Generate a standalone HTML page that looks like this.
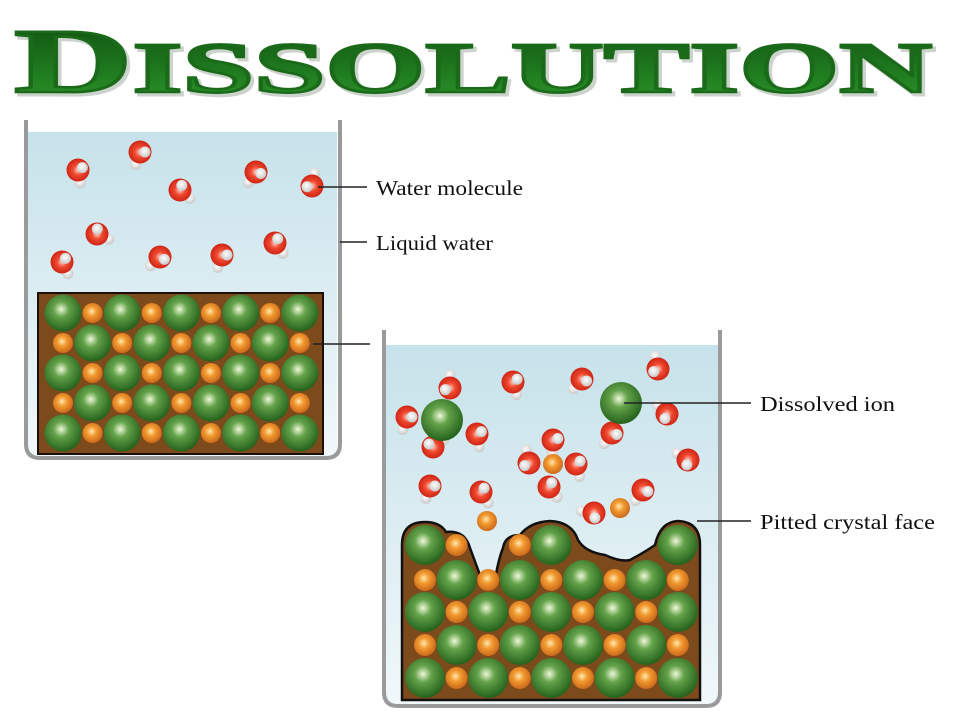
<!DOCTYPE html>
<html><head><meta charset="utf-8"><style>
html,body{margin:0;padding:0;background:#fff;width:960px;height:720px;overflow:hidden}
</style></head><body>
<svg id="s" width="960" height="720" viewBox="0 0 960 720" xmlns="http://www.w3.org/2000/svg">
<defs>
<linearGradient id="tg" x1="0" y1="0" x2="0" y2="1"><stop offset="0" stop-color="#0d4a0d"/><stop offset="0.6" stop-color="#1f7a1f"/><stop offset="1" stop-color="#2f9a2a"/></linearGradient>
<linearGradient id="wg" x1="0" y1="0" x2="0" y2="1"><stop offset="0" stop-color="#c6e2ea"/><stop offset="1" stop-color="#f1f8fa"/></linearGradient>
<radialGradient id="gg" cx="0.45" cy="0.4" r="0.6"><stop offset="0" stop-color="#eef8d8"/><stop offset="0.35" stop-color="#64a24a"/><stop offset="1" stop-color="#24621c"/></radialGradient>
<radialGradient id="og" cx="0.45" cy="0.42" r="0.6"><stop offset="0" stop-color="#ffe8b0"/><stop offset="0.4" stop-color="#f29a30"/><stop offset="1" stop-color="#c9661a"/></radialGradient>
<radialGradient id="rg" cx="0.5" cy="0.5" r="0.55"><stop offset="0" stop-color="#ffd0c8"/><stop offset="0.4" stop-color="#f04a30"/><stop offset="1" stop-color="#c81e10"/></radialGradient>
<radialGradient id="hg" cx="0.45" cy="0.4" r="0.6"><stop offset="0" stop-color="#ffffff"/><stop offset="1" stop-color="#c8c8c8"/></radialGradient>
</defs>
<text x="14" y="92" font-family="Liberation Serif, serif" font-weight="bold" fill="#9aa89a" opacity="0.5" font-size="92" textLength="918" lengthAdjust="spacingAndGlyphs" transform="translate(3,3)" stroke="#9aa89a" stroke-width="3">D<tspan font-size="72">ISSOLUTION</tspan></text>
<text x="14" y="92" font-family="Liberation Serif, serif" font-weight="bold" fill="url(#tg)" font-size="92" textLength="918" lengthAdjust="spacingAndGlyphs" stroke="#1a6a1a" stroke-width="2.5">D<tspan font-size="72">ISSOLUTION</tspan></text>

<rect x="28" y="132" width="309" height="324" fill="url(#wg)"/>
<path d="M26 120 V444 Q26 458 40 458 H326 Q340 458 340 444 V120" fill="none" stroke="#9a9a9a" stroke-width="4"/>
<rect x="38" y="293" width="285" height="161" fill="#7d4a1c" stroke="#1a0e05" stroke-width="2"/>
<g id="L"></g>
<rect x="386" y="345" width="332" height="360" fill="url(#wg)"/>
<path d="M384 330 V692 Q384 706 398 706 H706 Q720 706 720 692 V330" fill="none" stroke="#9a9a9a" stroke-width="4"/>
<path d="M402 700 V545 Q402 522 425 522 Q440 522 446 532 Q465 530 470 548 Q480 575 484 586 H494 Q498 560 503 548 Q505 535 520 535 Q530 522 550 521 Q572 522 578 540 Q585 552 605 555 Q620 562 630 560 Q645 552 655 545 Q660 522 678 521 Q700 522 700 545 V700 Z" fill="#7d4a1c" stroke="#111" stroke-width="2.5"/>
<g id="R"></g>
<g id="W"></g>
<g stroke="#222" stroke-width="1.5">
<line x1="318" y1="187" x2="367" y2="187"/>
<line x1="340" y1="242" x2="367" y2="242"/>
<line x1="313" y1="344" x2="370" y2="344"/>
<line x1="624" y1="403" x2="751" y2="403"/>
<line x1="697" y1="521" x2="751" y2="521"/>
</g>
<g font-family="Liberation Serif, serif" font-size="21" fill="#111">
<text x="376" y="195" textLength="147" lengthAdjust="spacingAndGlyphs">Water molecule</text>
<text x="376" y="250" textLength="117" lengthAdjust="spacingAndGlyphs">Liquid water</text>
<text x="760" y="411" textLength="135" lengthAdjust="spacingAndGlyphs">Dissolved ion</text>
<text x="760" y="529" textLength="175" lengthAdjust="spacingAndGlyphs">Pitted crystal face</text>
</g>
</svg>
<script>
const NS="http://www.w3.org/2000/svg";
function c(g,x,y,r,f){const e=document.createElementNS(NS,"circle");e.setAttribute("cx",x);e.setAttribute("cy",y);e.setAttribute("r",r);e.setAttribute("fill",f);document.getElementById(g).appendChild(e);}
const ly=[313,343,373,403,433];
ly.forEach((y,i)=>{for(let k=0;k<9;k++){const x=63+k*29.6;const green=(i%2===0)?(k%2===0):(k%2===1);
 if(green)c("L",x,y,18.5,"url(#gg)");else c("L",x,y,10,"url(#og)");}});
const ry=[545,580,612,645,678];
ry.forEach((y,i)=>{for(let k=0;k<9;k++){const x=425+k*31.6;const green=(i%2===0)?(k%2===0):(k%2===1);
 if(i===0){ if(!(k===0||k===1||k===3||k===4||k===8))continue;}
 if(green)c("R",x,y,20,"url(#gg)");else c("R",x,y,11,"url(#og)");}});
function w(x,y,a){
 c("W",x+13*Math.cos(a+1.9),y+13*Math.sin(a+1.9),5.5,"url(#hg)");
 c("W",x,y,11.5,"url(#rg)");
 c("W",x+5*Math.cos(a),y+5*Math.sin(a),5.5,"url(#hg)");}
[[78,170,-0.5],[140,152,0],[180,190,-1.2],[256,172,0.3],[312,186,3],[97,234,-1.5],[160,257,0.5],[222,255,0],[275,243,-1],[62,262,-0.8],
[450,388,2.8],[513,382,-0.6],[582,379,0.4],[658,369,2.6],[407,417,0],[477,434,-0.5],[433,447,-2.5],[667,414,2],[612,433,0.3],[553,440,-0.3],[529,463,2.6],[576,464,-0.6],[549,487,-1],[430,486,0],[481,492,-0.9],[688,460,1.8],[643,490,0.3],[594,513,1.4]].forEach(p=>w(p[0],p[1],p[2]));
c("W",442,420,21,"url(#gg)");c("W",621,403,21,"url(#gg)");
c("W",553,464,10,"url(#og)");c("W",487,521,10,"url(#og)");c("W",620,508,10,"url(#og)");
</script>
</body></html>
